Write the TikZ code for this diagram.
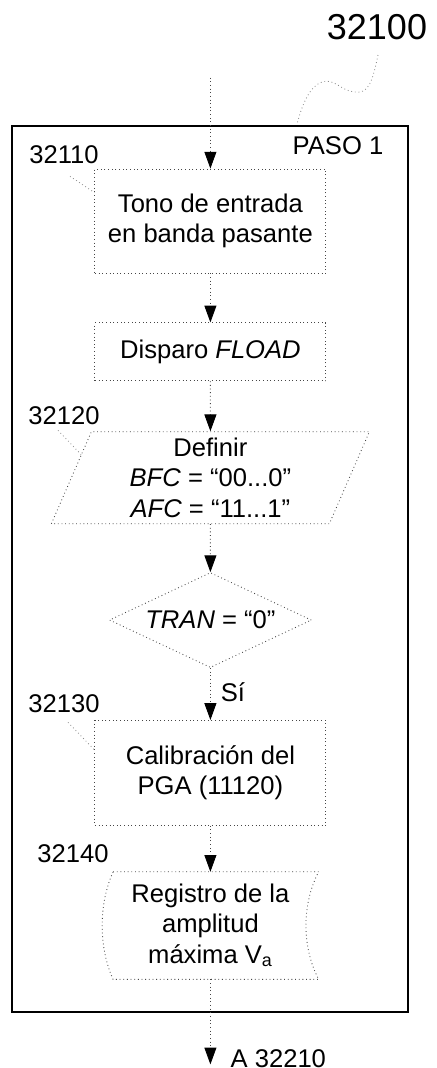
\documentclass[tikz,border=0pt]{standalone}
\usepackage{fontspec}
\setmainfont{Liberation Sans}
\usetikzlibrary{arrows.meta,positioning,calc,shapes.geometric}
\definecolor{dotgray}{RGB}{70,70,70}
\definecolor{leadgray}{RGB}{140,140,140}
\newcommand{\flowfont}{\fontsize{18.2pt}{21.5pt}\selectfont}
\newcommand{\reffont}{\fontsize{25.6pt}{28pt}\selectfont}
\tikzset{
  stepbox/.style={draw=dotgray,dotted,line width=0.6pt,minimum width=5.775cm,
                  align=center,font=\flowfont,inner sep=1pt},
  iobox/.style={stepbox,trapezium,trapezium left angle=64,trapezium right angle=116,
                trapezium stretches body,minimum width=7.95cm,minimum height=2.3cm},
  decis/.style={stepbox,diamond,aspect=2.1,minimum width=5.05cm,
                minimum height=2.375cm,inner sep=0pt},
  storebox/.style={align=center,font=\flowfont,minimum width=5.4cm,
                   minimum height=2.675cm,inner sep=0pt},
  frame/.style={draw=black,line width=1.6pt,inner sep=0pt},
  arr/.style={-{Triangle[length=0.42cm,width=0.3cm,color=black]},
              draw=dotgray,dotted,line width=0.6pt},
  lbl/.style={font=\flowfont,inner sep=0pt},
  reflbl/.style={font=\reffont,inner sep=0pt},
  lead/.style={draw=leadgray,dotted,line width=0.6pt},
}
\begin{document}
\begin{tikzpicture}
  \useasboundingbox (0,0) rectangle (10.9,-26.7);
  % outer frame of step 1
  \node[frame,minimum width=9.9cm,minimum height=22.15cm] (paso) at (5.25,-14.225) {};
  \node[lbl] (pasolbl) at (8.45,-3.65) {PASO 1};

  % flow chain
  \node[stepbox,minimum height=2.6cm] (tono) at (5.26,-5.525)
    {Tono de entrada\\en banda pasante};
  \node[stepbox,minimum height=1.45cm,below=1.225cm of tono] (disp)
    {Disparo \textit{FLOAD}};
  \node[iobox,below=1.25cm of disp] (defin)
    {Definir\\\textit{BFC} = “00...0”\\\textit{AFC} = “11...1”};
  \node[decis,below=1.2cm of defin] (tran) {\textit{TRAN} = “0”};
  \node[stepbox,minimum height=2.625cm,below=1.3cm of tran] (calib)
    {Calibración del\\PGA (11120)};
  \node[storebox,below=1.15cm of calib] (reg)
    {Registro de la\\amplitud\\máxima V\textsubscript{a}};
  \draw[stepbox] ($(reg.north west)+(0.275,0)$) -- (reg.north east)
    .. controls ($(reg.north east)+(-0.425,-0.8)$) and ($(reg.south east)+(-0.425,0.8)$) .. (reg.south east)
    -- ($(reg.south west)+(0.275,0)$)
    .. controls ($(reg.south west)+(-0.09,0.8)$) and ($(reg.north west)+(-0.09,-0.8)$) .. cycle;

  \coordinate[above=2.275cm of tono] (src);
  \coordinate[below=2.125cm of reg] (fin);

  \draw[arr] (src) -- (tono);
  \draw[arr] (tono) -- (disp);
  \draw[arr] (disp) -- (defin);
  \draw[arr] (defin) -- (tran);
  \draw[arr] (tran) -- (calib);
  \draw[arr] (calib) -- (reg);
  \draw[arr] (reg) -- (fin);

  % reference numbers
  \node[reflbl] (n32100) at (9.425,-0.675) {32100};
  \node[lbl] (n32110) at (1.6,-3.875) {32110};
  \node[lbl] (n32120) at (1.6,-10.4) {32120};
  \node[lbl] (si) at (5.825,-17.3) {Sí};
  \node[lbl] (n32130) at (1.6,-17.6) {32130};
  \node[lbl] (n32140) at (1.825,-21.35) {32140};
  \node[lbl,anchor=west] (dest) at ($(fin)+(0.5,0.15)$) {A 32210};

  % leader lines
  \draw[lead] ($(n32100.south)+(0.025,-0.375)$)
    .. controls (9.3,-2.1) and (9.2,-2.35) .. (8.85,-2.3)
    .. controls (8.5,-2.25) and (8.35,-1.95) .. (8.05,-2.05)
    .. controls (7.75,-2.15) and (7.55,-2.6) .. ($(paso.north west)+(7.15,0)$);
  \draw[lead] ($(n32110.south)+(0.15,-0.3)$) -- ($(tono.north west)+(0,-0.6)$);
  \draw[lead] ($(n32120.south)+(-0.15,-0.125)$)
    -- ($(defin.top left corner)!0.25!(defin.bottom left corner)$);
  \draw[lead] ($(n32130.south)+(0.1,-0.225)$) -- ($(calib.north west)+(0,-0.75)$);
\end{tikzpicture}
\end{document}
